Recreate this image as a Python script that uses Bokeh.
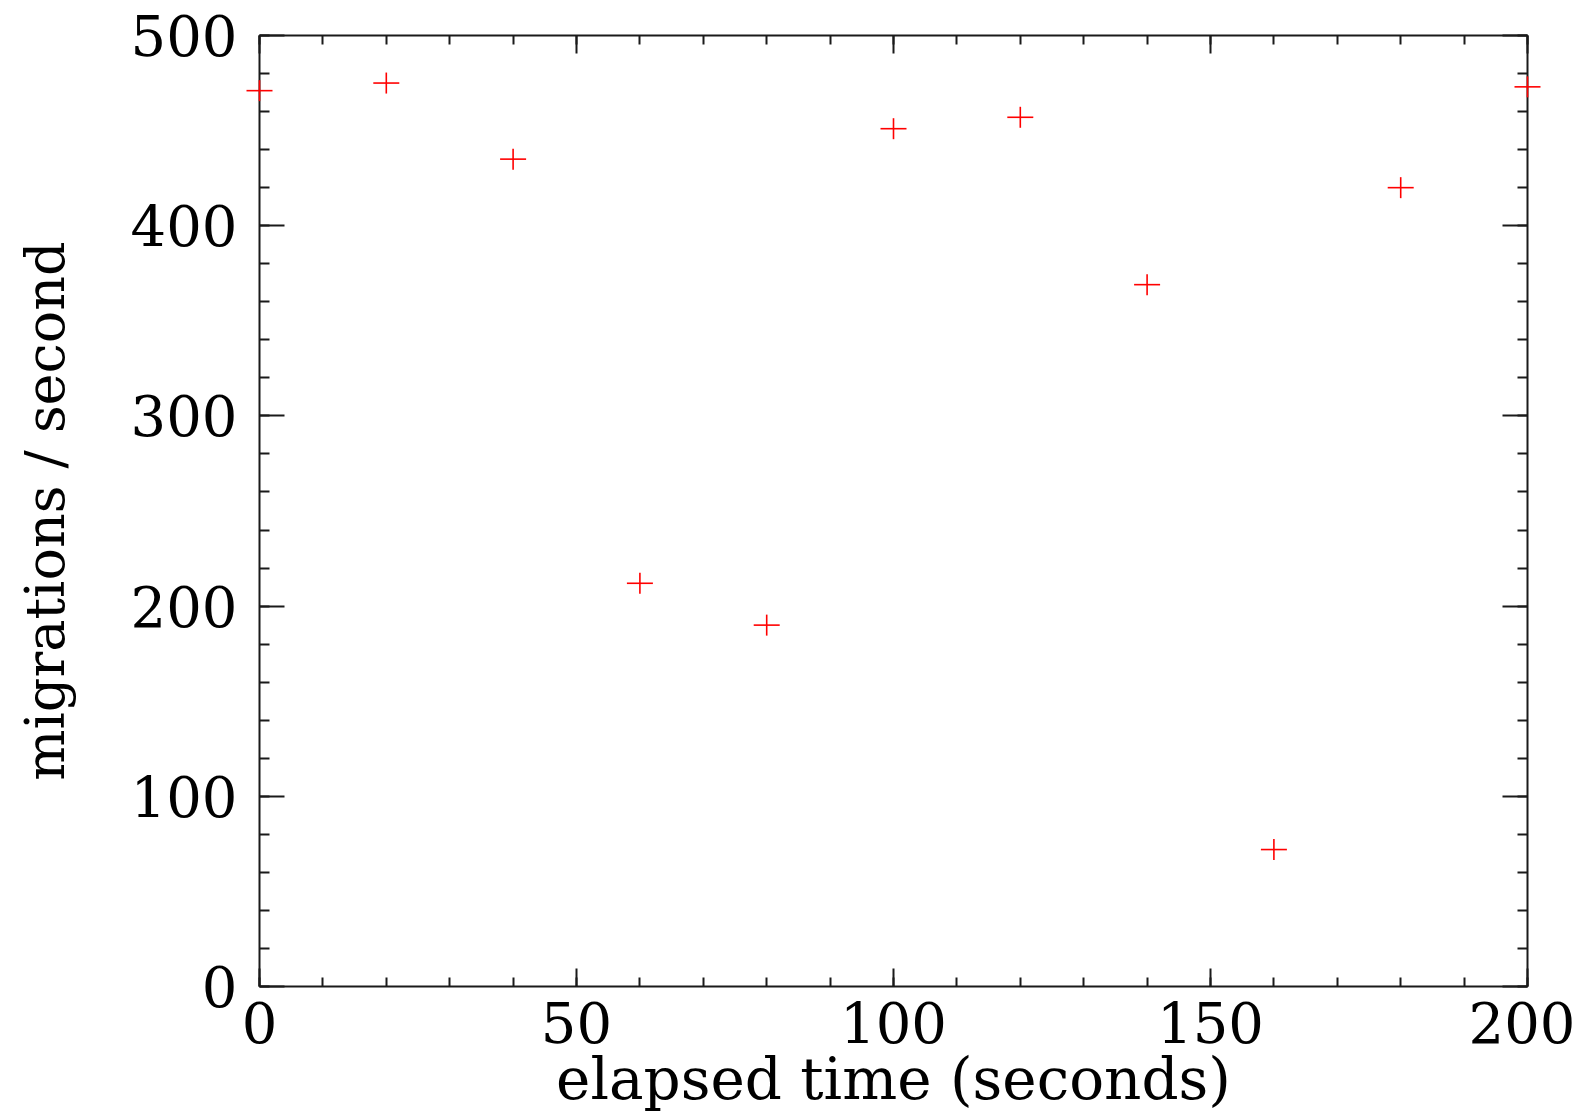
import math
from bokeh.plotting import figure
from bokeh.models import LinearAxis, Range1d, SingleIntervalTicker
from bokeh.core.properties import value
from bokeh.embed import file_html
from bokeh.resources import INLINE

# Data
elapsed_time = [0, 20, 40, 60, 80, 100, 120, 140, 160, 180, 200]
migrations_per_second = [471, 475, 435, 212, 190, 451, 457, 369, 72, 420, 473]

x_label = "elapsed time (seconds)"
y_label = "migrations / second"

FONT = "DejaVu Serif"
AXIS_COLOR = "#1a1a1a"

x_range = Range1d(0, 200)
y_range = Range1d(0, 500)

p = figure(
    width=1575, height=1117,
    output_backend="svg", toolbar_location=None,
    x_range=x_range, y_range=y_range,
    x_axis_type=None, y_axis_type=None,
    min_border_left=259, min_border_right=48,
    min_border_top=35, min_border_bottom=131,
    background_fill_color="white", border_fill_color="white",
    outline_line_color=None,
)
p.xgrid.visible = False
p.ygrid.visible = False


def make_axis(kind, labelled, label=""):
    if kind == "x":
        ticker = SingleIntervalTicker(interval=50, num_minor_ticks=5)
        maj, mnr = 18, 9
    else:
        ticker = SingleIntervalTicker(interval=100, num_minor_ticks=5)
        maj, mnr = 25, 10
    ax = LinearAxis(ticker=ticker)
    ax.axis_line_color = AXIS_COLOR
    ax.axis_line_width = 2
    ax.major_tick_line_color = AXIS_COLOR
    ax.major_tick_line_width = 2
    ax.minor_tick_line_color = AXIS_COLOR
    ax.minor_tick_line_width = 2
    ax.major_tick_in = maj
    ax.major_tick_out = 0
    ax.minor_tick_in = mnr
    ax.minor_tick_out = 0
    if labelled:
        ax.major_label_text_font = FONT
        ax.major_label_text_font_size = "56px"
        ax.major_label_text_color = "black"
        ax.major_label_standoff = 15 if kind == "x" else 22
        if label:
            ax.axis_label = label
            ax.axis_label_text_font = FONT
            ax.axis_label_text_font_style = "normal"
            ax.axis_label_text_color = "black"
            ax.axis_label_text_font_size = "54px"
            ax.axis_label_standoff = 51
    else:
        ax.major_label_text_font_size = "0px"
        ax.major_label_text_alpha = 0
        ax.major_label_standoff = 0
    return ax


p.add_layout(make_axis("x", True), "below")
p.add_layout(make_axis("y", True, y_label), "left")
p.add_layout(make_axis("x", False), "above")
p.add_layout(make_axis("y", False), "right")

# x-axis title: anchored at the bottom of the frame, offset downward in pixels
p.text(
    x=[(x_range.start + x_range.end) / 2], y=[y_range.start],
    text=[x_label], y_offset=92,
    text_align="center", text_baseline="alphabetic",
    text_font=value(FONT), text_font_size=value("58px"),
    text_color="black", level="overlay",
)

# '+' markers: wider than tall, as in the reference
p.scatter(elapsed_time, migrations_per_second, marker="dash", size=26,
          line_color="red", line_width=1.6, level="overlay")
p.scatter(elapsed_time, migrations_per_second, marker="dash", size=21,
          angle=math.pi / 2, line_color="red", line_width=1.6,
          level="overlay")

open("out.html", "w").write(file_html(p, INLINE))
